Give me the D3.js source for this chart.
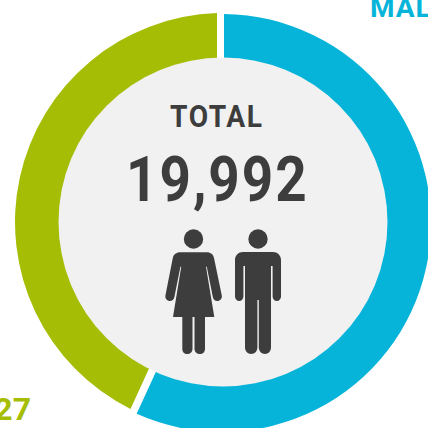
<!DOCTYPE html>
<html>
<head>
<meta charset="utf-8">
<script src="https://cdn.jsdelivr.net/npm/d3@7"></script>
<style>
html, body { margin: 0; padding: 0; background: #fff; overflow: hidden; }
text { font-family: Roboto, sans-serif; font-weight: 700; }
</style>
</head>
<body>
<div id="chart-area"></div>
<script>
let categories = ["MALE", "FEMALE"];
let values = [11365, 8627];
let colors = ["#07b4d9", "#a6bd05"];
let total = 19992;

// the two slices are not quite concentric in the original
let centers = [[222, 223], [224, 222]];
let pads = [4 / 187, 14 / 187];

let svg = d3.select("#chart-area")
            .append("svg")
            .attr("width", 428)
            .attr("height", 428)
            .style("display", "block");

let pie = d3.pie().sort(null);

let arc = d3.arc()
            .innerRadius(155)
            .outerRadius(209)
            .padRadius(187);

svg.selectAll("path.slice")
    .data(pie(values))
    .enter()
    .append("path")
    .attr("class", "slice")
    .attr("transform", function(d, i){ return "translate(" + centers[i] + ")"; })
    .attr("d", function(d, i){
        return arc({startAngle: d.startAngle, endAngle: d.endAngle, padAngle: pads[i]});
    })
    .attr("fill", function(d, i){ return colors[i]; });

svg.append("circle")
    .attr("cx", 223)
    .attr("cy", 222)
    .attr("r", 164.5)
    .attr("fill", "#f1f1f1");

// center labels, squeezed because Roboto is wider than the original face
svg.append("text")
    .attr("transform", "translate(170,127) scale(0.88,1)")
    .attr("font-size", 32)
    .attr("letter-spacing", 1.8)
    .attr("fill", "#3d3d3d")
    .text("TOTAL");

svg.append("text")
    .attr("transform", "translate(126,201) scale(0.87,1)")
    .attr("font-size", 63)
    .attr("letter-spacing", 2.3)
    .attr("fill", "#3d3d3d")
    .text(d3.format(",")(total));

// outer labels, cut off by the window like the original
svg.append("text")
    .attr("x", 370)
    .attr("y", 17)
    .attr("font-size", 28)
    .attr("letter-spacing", 1)
    .attr("fill", colors[0])
    .text(categories[0]);

svg.append("text")
    .attr("x", 31)
    .attr("y", 420)
    .attr("text-anchor", "end")
    .attr("font-size", 32)
    .attr("fill", colors[1])
    .text(d3.format(",")(values[1]));

// people icons
let icons = svg.append("g").attr("fill", "#3d3d3d");
icons.append("circle").attr("cx", 193.5).attr("cy", 239).attr("r", 9.7);
icons.append("circle").attr("cx", 258).attr("cy", 239).attr("r", 9.7);

// woman
icons.append("path").attr("d",
    "M180 252.3H207C210.5 252.3 213.3 254.5 214 258L221.7 295C222.4 298.3 220.5 300.6 218 301" +
    "C215.5 301.4 213.4 299.8 212.8 297L206.8 266.7L206 266.7L214.3 317H205V349C205 352 202.8 354 200 354" +
    "C197.2 354 194.5 352 194.5 349V317H192.5V349C192.5 352 190 354 187.2 354C184.4 354 182.3 352 182.3 349V317H173" +
    "L181.2 266.7L180.4 266.7L174.4 297C173.8 299.8 171.7 301.4 169.2 301C166.7 300.6 164.8 298.3 165.5 295" +
    "L172.8 258C173.5 254.5 176.5 252.3 180 252.3Z");

// man
icons.append("path").attr("d",
    "M243 252H273C277.5 252 281 255.5 281 260V296.5C281 299 279 301 276.8 301C274.6 301 272.6 299 272.6 296.5V266H271" +
    "V347.5C271 351.2 268.2 354 265 354C261.8 354 258.8 351.2 258.8 347.5V300H257.4V347.5C257.4 351.2 254.5 354 251.2 354" +
    "C248 354 245 351.2 245 347.5V266H243.4V296.5C243.4 299 241.4 301 239.2 301C237 301 235 299 235 296.5V260" +
    "C235 255.5 238.5 252 243 252Z");
</script>
</body>
</html>
